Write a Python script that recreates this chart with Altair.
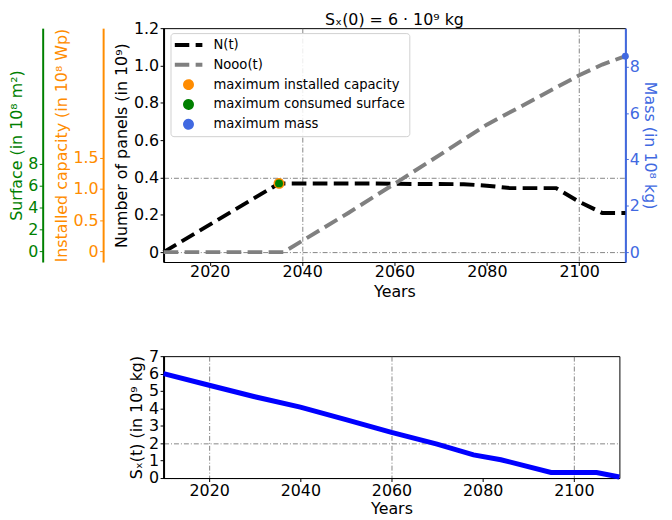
import altair as alt
import pandas as pd

# ---------------- data ----------------
n_years = [2010, 2035, 2055, 2060, 2075, 2080, 2085, 2095, 2100, 2105, 2110]
n_values = [0.0, 0.368, 0.368, 0.366, 0.364, 0.356, 0.343, 0.343, 0.27, 0.21, 0.21]

nooo_years = [2010, 2036, 2040, 2050, 2060, 2070, 2080, 2090, 2100, 2105, 2110]
nooo_values = [0.0, 0.0, 0.06, 0.21, 0.366, 0.524, 0.683, 0.815, 0.948, 1.005, 1.05]

sx_years = [2010, 2020, 2030, 2040, 2050, 2060, 2070, 2078, 2084, 2095, 2105, 2110]
sx_values = [6.0, 5.33, 4.67, 4.07, 3.36, 2.62, 1.95, 1.33, 1.05, 0.32, 0.32, 0.06]

legend_labels = ["N(t)", "Nooo(t)", "maximum installed capacity",
                 "maximum consumed surface", "maximum mass"]

capacity_year = [2035]
capacity_max = [1.09]      # 10^8 Wp
surface_year = [2035]
surface_max = [6.21]       # 10^8 m^2
mass_year = [2110]
mass_max = [8.46]          # 10^8 kg

x_ticks = [2020, 2040, 2060, 2080, 2100]
panel_ticks = [0, 0.2, 0.4, 0.6, 0.8, 1.0, 1.2]
capacity_ticks = [0, 0.5, 1.0, 1.5]
surface_ticks = [0, 2, 4, 6, 8]
mass_ticks = [0, 2, 4, 6, 8]
sx_ticks = [0, 1, 2, 3, 4, 5, 6, 7]

title_text = "Sₓ(0) = 6 · 10⁹ kg"

# ---------------- frames ----------------
lines_df = pd.DataFrame({
    "year": n_years + nooo_years,
    "value": n_values + nooo_values,
    "series": ["N(t)"] * len(n_years) + ["Nooo(t)"] * len(nooo_years),
})
cap_df = pd.DataFrame({"year": capacity_year, "value": capacity_max,
                       "series": ["maximum installed capacity"]})
surf_df = pd.DataFrame({"year": surface_year, "value": surface_max,
                        "series": ["maximum consumed surface"]})
mass_df = pd.DataFrame({"year": mass_year, "value": mass_max,
                        "series": ["maximum mass"]})
sx_df = pd.DataFrame({"year": sx_years, "sx": sx_values})

FONT = "DejaVu Sans"
FS = 16
LEG_FS = 13.3
ORANGE = "darkorange"
GREEN = "green"
BLUE = "royalblue"


def grid_at(vals):
    test = " || ".join(f"datum.value == {v}" for v in vals)
    return {"condition": {"test": test, "value": 1}, "value": 0}


x_top = alt.X(
    "year:Q",
    scale=alt.Scale(domain=[2010, 2110], nice=False, zero=False),
    axis=alt.Axis(title="Years", values=x_ticks, format="d", grid=True,
                  gridOpacity=grid_at([2040, 2100]), labelPadding=-2, titlePadding=4),
)

legend_def = alt.Legend(
    title=None, orient="none", legendX=7, legendY=5,
    fillColor="rgba(255,255,255,0.85)", strokeColor="#d0d0d0", cornerRadius=3,
    padding=4, labelFont=FONT, labelFontSize=LEG_FS, labelLimit=400,
    symbolOffset=7.5, labelOffset=18.5, rowPadding=4, clipHeight=16,
    symbolFillColor="transparent", symbolStrokeColor="black",
)

line_shape = "M-4,0H4"
sym_colors = ["black", "grey", ORANGE, GREEN, BLUE]
sym_fills = ["transparent", "transparent", ORANGE, GREEN, BLUE]

lines = alt.Chart(lines_df).mark_line(strokeWidth=4, strokeDash=[14.8, 6.4]).encode(
    x=x_top,
    y=alt.Y("value:Q",
            scale=alt.Scale(domain=[-0.053, 1.2], nice=False, zero=False),
            axis=alt.Axis(orient="left", title="Number of panels (in 10⁹)",
                          values=panel_ticks,
                          labelExpr="datum.value == 0 ? '0' : format(datum.value, '.1f')",
                          grid=True, gridOpacity=grid_at([0, 0.4]),
                          domainWidth=2)),
    detail="series:N",
    color=alt.condition(alt.datum.series == "N(t)", alt.value("black"), alt.value("grey")),
)

capacity = alt.Chart(cap_df).mark_point(filled=False, opacity=1).encode(
    x=x_top,
    y=alt.Y("value:Q",
            scale=alt.Scale(domain=[-0.1755, 3.59], nice=False, zero=False),
            axis=alt.Axis(orient="left", offset=61,
                          title="Installed capacity (in 10⁸ Wp)",
                          values=capacity_ticks,
                          labelExpr="datum.value == 0 ? '0' : format(datum.value, '.1f')",
                          grid=False, domainColor=ORANGE, domainWidth=2,
                          tickColor=ORANGE, labelColor=ORANGE, titleColor=ORANGE)),
    color=alt.Color("series:N", scale=alt.Scale(domain=legend_labels, range=sym_colors),
                    legend=legend_def),
    fill=alt.Fill("series:N", scale=alt.Scale(domain=legend_labels, range=sym_fills),
                  legend=legend_def),
    shape=alt.Shape("series:N", scale=alt.Scale(
        domain=legend_labels, range=[line_shape, line_shape, "circle", "circle", "circle"]),
        legend=legend_def),
    size=alt.Size("series:N", scale=alt.Scale(
        domain=legend_labels, range=[49, 49, 180, 49, 49]), legend=legend_def),
    strokeWidth=alt.StrokeWidth("series:N", scale=alt.Scale(
        domain=legend_labels, range=[4, 4, 1, 1, 1]), legend=legend_def),
    strokeDash=alt.StrokeDash("series:N", scale=alt.Scale(
        domain=legend_labels, range=[[14.8, 6.4], [14.8, 6.4], [1, 0], [1, 0], [1, 0]]),
        legend=legend_def),
)

surface = alt.Chart(surf_df).mark_point(filled=True, color=GREEN, size=64, opacity=1).encode(
    x=x_top,
    y=alt.Y("value:Q",
            scale=alt.Scale(domain=[-1.0, 20.45], nice=False, zero=False),
            axis=alt.Axis(orient="left", offset=122,
                          title="Surface (in 10⁸ m²)", values=surface_ticks,
                          grid=False, domainColor=GREEN, domainWidth=2, titlePadding=3,
                          tickColor=GREEN, labelColor=GREEN, titleColor=GREEN)),
)

mass = alt.Chart(mass_df).mark_point(filled=True, color=BLUE, size=49, opacity=1).encode(
    x=x_top,
    y=alt.Y("value:Q",
            scale=alt.Scale(domain=[-0.428, 9.668], nice=False, zero=False),
            axis=alt.Axis(orient="right", title="Mass (in 10⁸ kg)", values=mass_ticks,
                          grid=False, domainColor=BLUE, domainWidth=2,
                          tickSize=3, labelPadding=1, titlePadding=2,
                          tickColor=BLUE, labelColor=BLUE, titleColor=BLUE)),
)

top = alt.layer(lines, capacity, surface, mass).resolve_scale(y="independent").properties(
    width=466, height=236,
    title=alt.TitleParams(title_text, font=FONT, fontSize=FS, fontWeight="normal",
                          frame="group", offset=-8),
)

bottom = alt.Chart(sx_df).mark_line(color="blue", strokeWidth=5).encode(
    x=alt.X("year:Q",
            scale=alt.Scale(domain=[2010, 2110], nice=False, zero=False),
            axis=alt.Axis(title="Years", values=x_ticks, format="d", grid=True,
                          gridOpacity=grid_at([2020, 2060, 2100]), labelPadding=1.5,
                          titlePadding=2)),
    y=alt.Y("sx:Q",
            scale=alt.Scale(domain=[0, 7], nice=False, zero=False),
            axis=alt.Axis(title="Sₓ(t) (in 10⁹ kg)", values=sx_ticks, grid=True,
                          gridOpacity=grid_at([0, 2]), domainWidth=2, labelOverlap=False)),
).properties(width=460, height=123)

chart = alt.vconcat(top, bottom, spacing=48).resolve_scale(
    x="independent", y="independent"
).properties(
    padding={"left": 0, "top": 1, "right": 6, "bottom": 0}
).configure_axis(
    labelFont=FONT, labelFontSize=FS, titleFont=FONT, titleFontSize=FS,
    titleFontWeight="normal", labelColor="black", titleColor="black",
    tickColor="black", domainColor="black", tickSize=3.5, labelPadding=1.5,
    gridColor="#666666", gridDash=[5, 2, 1, 2], gridWidth=0.8,
).configure_view(
    stroke="black", strokeWidth=1
)

chart.save("out.html", embed_options={"renderer": "svg", "actions": False})
